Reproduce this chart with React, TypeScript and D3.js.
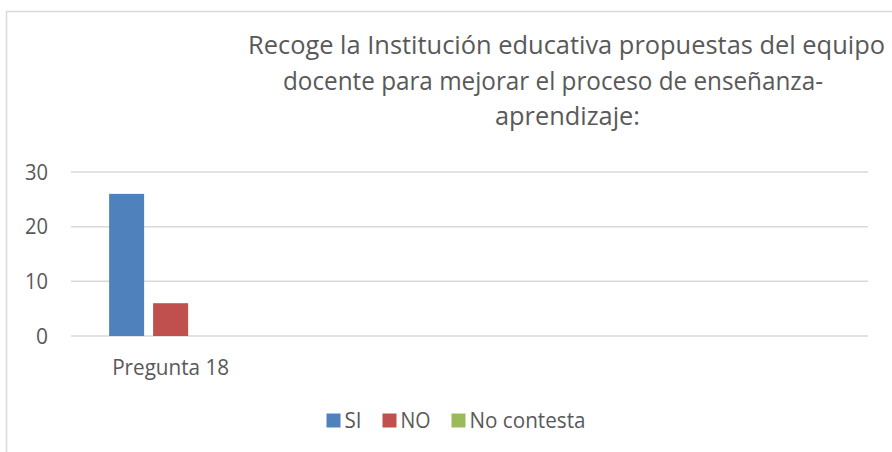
import React from "react";
import * as d3 from "d3";

const categories = ["Pregunta 18", "", "", ""];
const seriesNames = ["SI", "NO", "No contesta"];
const siValues = [26, null, null, null];
const noValues = [6, null, null, null];
const noContestaValues = [0, null, null, null];
const yTicks = [0, 10, 20, 30];
const titleLines = [
  "Recoge la Institución educativa propuestas del equipo",
  "docente para mejorar el proceso de enseñanza-",
  "aprendizaje:",
];
const colors = ["#4F81BD", "#C0504D", "#9BBB59"];

const W = 892;
const H = 452;
const FONT = "'Open Sans', sans-serif";
const TEXT = "#595959";
const GRID = "#D9D9D9";

export default function App() {
  const values = [siValues, noValues, noContestaValues];
  const plotLeft = 71;
  const plotRight = 868;
  const y = d3.scaleLinear().domain([0, 30]).range([336, 172]);
  const x0 = d3
    .scaleBand<string>()
    .domain(categories.map((c, i) => String(i)))
    .range([plotLeft, plotRight])
    .paddingInner(0)
    .paddingOuter(0);
  const x1 = d3
    .scaleBand<string>()
    .domain(seriesNames)
    .range([0, x0.bandwidth()])
    .paddingInner(9 / 44)
    .paddingOuter(0.866);

  const titleSpecs = [
    { cx: 566.5, len: 637, y: 54 },
    { cx: 553, len: 540, y: 89.5 },
    { cx: 567.5, len: 145, y: 125 },
  ];

  const legendWidths = [17, 30, 116];
  const sq = 14;
  const gapSqText = 4;
  const gapItems = 21;
  const totalLegend =
    legendWidths.reduce((a, b) => a + b, 0) +
    seriesNames.length * (sq + gapSqText) +
    (seriesNames.length - 1) * gapItems;
  const legendStart = 456 - totalLegend / 2;
  const legendX: number[] = [];
  let cur = legendStart;
  legendWidths.forEach((w) => {
    legendX.push(cur);
    cur += sq + gapSqText + w + gapItems;
  });

  return (
    <svg
      width={W}
      height={H}
      style={{ position: "absolute", left: 0, top: 0, background: "#fff" }}
      fontFamily={FONT}
    >
      <rect x={0} y={0} width={W} height={H} fill="#fff" />
      <rect
        x={6.5}
        y={11.5}
        width={W + 20}
        height={H + 20}
        fill="none"
        stroke={GRID}
        strokeWidth={1.5}
      />
      {titleLines.map((t, i) => (
        <text
          key={i}
          x={titleSpecs[i].cx}
          y={titleSpecs[i].y}
          textAnchor="middle"
          fontSize={25}
          fill={TEXT}
          textLength={titleSpecs[i].len}
          lengthAdjust="spacingAndGlyphs"
        >
          {t}
        </text>
      ))}
      {yTicks.map((t) => (
        <g key={t}>
          <line
            x1={plotLeft}
            x2={plotRight}
            y1={y(t)}
            y2={y(t)}
            stroke={GRID}
            strokeWidth={1.5}
          />
          <text
            x={48}
            y={y(t) + 7.5}
            textAnchor="end"
            fontSize={21}
            fill={TEXT}
            textLength={t >= 10 ? 23 : undefined}
            lengthAdjust="spacingAndGlyphs"
          >
            {t}
          </text>
        </g>
      ))}
      {categories.map((c, ci) => (
        <g key={ci} transform={`translate(${x0(String(ci))},0)`}>
          {seriesNames.map((s, si) => {
            const v = values[si][ci];
            if (v == null || v === 0) return null;
            return (
              <rect
                key={s}
                x={x1(s)}
                y={y(v)}
                width={x1.bandwidth()}
                height={y(0) - y(v)}
                fill={colors[si]}
              />
            );
          })}
          {c && (
            <text
              x={x0.bandwidth() / 2}
              y={375}
              textAnchor="middle"
              fontSize={21}
              fill={TEXT}
              textLength={117}
              lengthAdjust="spacingAndGlyphs"
            >
              {c}
            </text>
          )}
        </g>
      ))}
      {seriesNames.map((s, i) => (
        <g key={s}>
          <rect x={legendX[i]} y={413.5} width={sq} height={sq} fill={colors[i]} />
          <text
            x={legendX[i] + sq + gapSqText}
            y={428}
            fontSize={21}
            fill={TEXT}
            textLength={legendWidths[i]}
            lengthAdjust="spacingAndGlyphs"
          >
            {s}
          </text>
        </g>
      ))}
    </svg>
  );
}
